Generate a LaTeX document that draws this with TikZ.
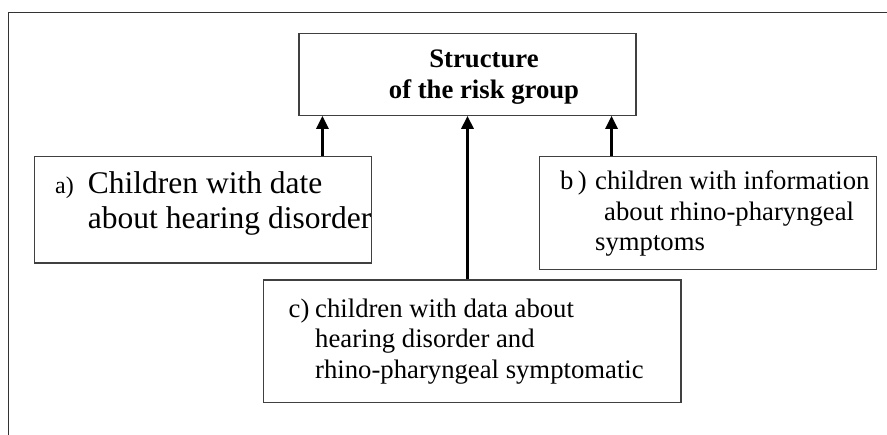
\documentclass[tikz,border=0pt]{standalone}
\usepackage{fontspec}
\setmainfont{Liberation Serif}
\usetikzlibrary{arrows.meta}
\begin{document}
\begin{tikzpicture}[x=1pt,y=-1pt,
    riskbox/.style={draw=black!75,line width=1.1pt,inner sep=0pt},
    boxtext/.style={anchor=base west,align=left,inner sep=0pt,
      font=\fontsize{26.7pt}{30.5pt}\selectfont},
    riskarrow/.style={line width=3pt,-{Triangle[width=12pt,length=13pt]}}]
  \useasboundingbox (0,0) rectangle (887,435);
  % frame
  \draw[black!80,line width=1.4pt] (8.5,440) -- (8.5,12.3) -- (892,12.3);
  % boxes
  \node[riskbox,minimum width=337pt,minimum height=81.6pt] (struct) at (467.5,74.5) {};
  \node[riskbox,minimum width=337pt,minimum height=106.7pt] (groupA) at (203,209.7) {};
  \node[riskbox,minimum width=337pt,minimum height=113.4pt] (groupB) at (708.2,213) {};
  \node[riskbox,minimum width=417.4pt,minimum height=122.3pt] (groupC) at (472.3,341.2) {};
  % texts (placed at the baseline of their last line)
  \node[boxtext,anchor=base,align=center,font=\fontsize{26.7pt}{30.5pt}\selectfont\bfseries]
    (structtext) at (484,98.2) {Structure\\of the risk group};
  \node[boxtext,font=\fontsize{24pt}{30pt}\selectfont] (labelA) at (55,194) {a)};
  \node[boxtext,font=\fontsize{31.5pt}{35pt}\selectfont] (textA) at (87.7,229)
    {Children with date\\about hearing disorder};
  \node[boxtext] (labelB) at (560,190) {b\,)};
  \node[boxtext] (textB) at (595,251)
    {children with information\\\hspace*{9pt}about rhino-pharyngeal\\symptoms};
  \node[boxtext] (labelC) at (288.5,317.3) {c)};
  \node[boxtext] (textC) at (315,378.3)
    {children with data about\\hearing disorder and\\rhino-pharyngeal symptomatic};
  % arrows
  \coordinate (tipA) at ([xshift=24pt]struct.south west);
  \coordinate (tipB) at ([xshift=-25pt]struct.south east);
  \draw[riskarrow] (groupA.north -| tipA) -- (tipA);
  \draw[riskarrow] (groupC.north -| struct.south) -- (struct.south);
  \draw[riskarrow] (groupB.north -| tipB) -- (tipB);
\end{tikzpicture}
\end{document}
